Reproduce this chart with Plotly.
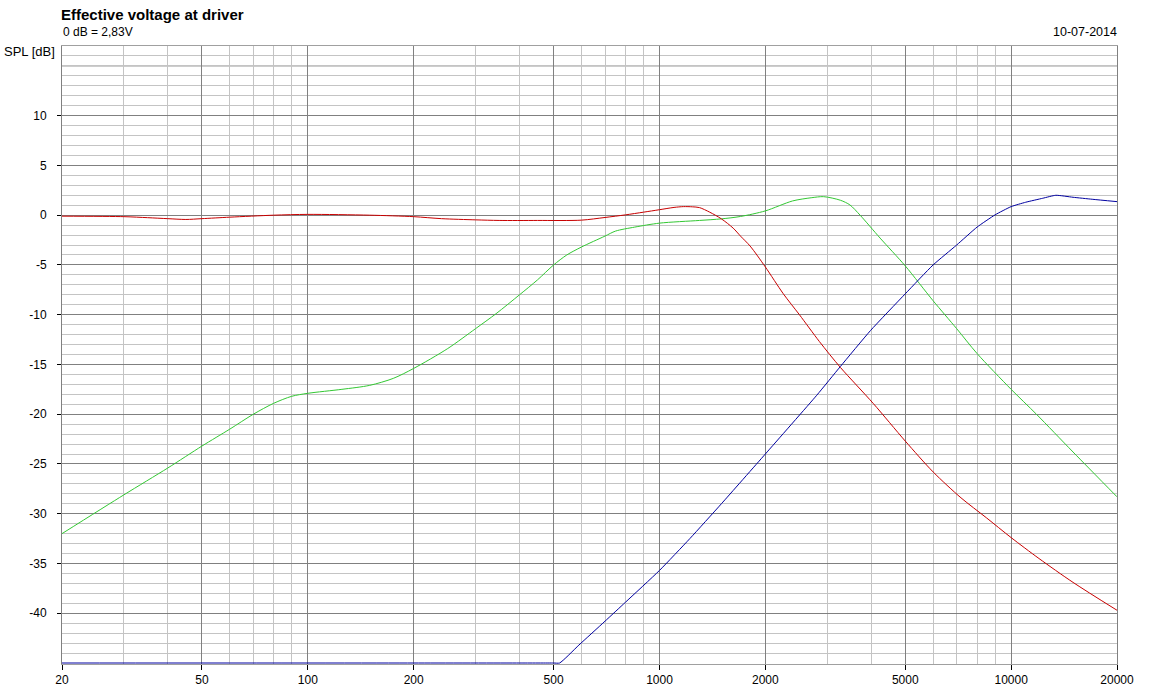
import plotly.graph_objects as go

# ---- data ----
red_freq = [20, 30, 35, 40, 45, 50, 60, 80, 100, 150, 200, 240, 300, 350, 450, 600, 700, 800, 900,
            1000, 1100, 1170, 1240, 1300, 1390, 1500, 1620, 1700, 1810, 2000, 2250, 2500, 2850,
            3270, 4050, 5000, 6000, 7200, 8500, 10000, 12000, 15000, 20000]
red_db = [-0.1, -0.15, -0.25, -0.35, -0.43, -0.35, -0.2, 0.0, 0.08, 0.0, -0.15, -0.35, -0.47, -0.53,
          -0.53, -0.5, -0.23, 0.03, 0.3, 0.55, 0.78, 0.86, 0.84, 0.76, 0.3, -0.37, -1.3, -2.1, -3.1,
          -5.2, -7.9, -10.0, -12.7, -15.3, -18.9, -22.7, -25.8, -28.4, -30.4, -32.4, -34.5, -36.9,
          -39.7]

green_freq = [20, 30, 40, 50, 60, 70, 80, 90, 100, 125, 150, 175, 200, 250, 300, 343, 400, 450, 500,
              545, 600, 700, 750, 850, 1000, 1300, 1500, 1700, 2000, 2390, 2700, 2930, 3270, 3480,
              3720, 4240, 5000, 6000, 7000, 8000, 10000, 11800, 15000, 20000]
green_db = [-32.0, -28.1, -25.4, -23.2, -21.5, -20.0, -18.9, -18.2, -17.9, -17.5, -17.1, -16.4, -15.4,
            -13.4, -11.4, -9.9, -8.0, -6.5, -5.0, -4.0, -3.2, -2.1, -1.6, -1.2, -0.8, -0.53, -0.37,
            -0.13, 0.43, 1.43, 1.75, 1.86, 1.5, 1.03, 0.0, -2.3, -5.1, -8.6, -11.4, -13.9, -17.5,
            -20.0, -23.8, -28.3]

blue_freq = [20, 200, 400, 500, 520, 590, 700, 800, 1000, 1220, 1500, 2000, 2800, 3270, 3980, 5000,
             6000, 7000, 8000, 9000, 10000, 11000, 12300, 13400, 15000, 17000, 20000]
blue_db = [-45, -45, -45, -45, -45, -43.2, -40.8, -38.9, -35.7, -32.5, -29.0, -24.0, -18.1, -15.2,
           -11.6, -7.9, -5.0, -3.0, -1.2, 0.03, 0.86, 1.3, 1.7, 2.0, 1.8, 1.6, 1.36]

x_ticks = [20, 50, 100, 200, 500, 1000, 2000, 5000, 10000, 20000]
x_tick_labels = ["20", "50", "100", "200", "500", "1000", "2000", "5000", "10000", "20000"]
x_minor = [30, 40, 60, 70, 80, 90, 300, 400, 600, 700, 800, 900, 3000, 4000, 6000, 7000, 8000, 9000]
y_ticks = [-40, -35, -30, -25, -20, -15, -10, -5, 0, 5, 10]
y_tick_labels = [str(v) for v in y_ticks]
y_extra_major = [15]

title_text = "Effective voltage at driver"
subtitle_text = "0 dB = 2,83V"
date_text = "10-07-2014"
y_title = "SPL [dB]"

# ---- figure ----
FONT = "Liberation Sans"
fig = go.Figure()
fig.add_trace(go.Scatter(x=green_freq, y=green_db, mode="lines", line_shape="spline",
                         line=dict(color="#33c833", width=1, smoothing=0.8), hoverinfo="skip"))
fig.add_trace(go.Scatter(x=red_freq, y=red_db, mode="lines", line_shape="spline",
                         line=dict(color="#c80000", width=1, smoothing=0.8), hoverinfo="skip"))
fig.add_trace(go.Scatter(x=blue_freq, y=blue_db, mode="lines", line_shape="spline",
                         line=dict(color="#0000a0", width=1, smoothing=0.5), hoverinfo="skip"))

MINOR_GRID = "#c4c4c4"
MAJOR_GRID = "#808080"

fig.update_layout(
    width=1175, height=699,
    margin=dict(l=62, r=58, t=46, b=29),
    paper_bgcolor="white", plot_bgcolor="white",
    showlegend=False,
    font=dict(family=FONT, size=12, color="black"),
    xaxis=dict(
        type="log", range=[1.30103, 4.30103],
        tickmode="array", tickvals=x_ticks, ticktext=x_tick_labels,
        ticks="outside", ticklen=5, tickcolor="black", tickwidth=1,
        showgrid=True, gridcolor=MAJOR_GRID, gridwidth=1,
        minor=dict(tickmode="array", tickvals=x_minor, showgrid=True,
                   gridcolor=MINOR_GRID, gridwidth=1, ticks=""),
        showline=True, linecolor="#a0a0a0", linewidth=1, mirror=True,
        zeroline=False, tickfont=dict(family=FONT, size=12, color="black"),
        fixedrange=True,
    ),
    yaxis=dict(
        range=[-45.1, 17], tickmode="array", tickvals=y_ticks, ticktext=y_tick_labels,
        ticks="outside", ticklen=4, tickcolor="black", tickwidth=1,
        ticklabelstandoff=8,
        showgrid=True, gridcolor=MAJOR_GRID, gridwidth=1,
        minor=dict(dtick=1, tick0=0, showgrid=True, gridcolor=MINOR_GRID, gridwidth=1, ticks=""),
        showline=True, linecolor=MAJOR_GRID, linewidth=1, mirror=True,
        zeroline=False, tickfont=dict(family=FONT, size=12, color="black"),
        fixedrange=True,
    ),
)

for yv in y_extra_major:
    fig.add_shape(type="line", xref="paper", x0=0, x1=1, yref="y", y0=yv, y1=yv,
                  line=dict(color=MAJOR_GRID, width=1), layer="below")

fig.add_annotation(text="<b>" + title_text + "</b>", xref="paper", yref="paper",
                   x=-0.003, y=1.0509, xanchor="left", yanchor="middle", showarrow=False,
                   font=dict(family=FONT, size=15, color="black"))
fig.add_annotation(text=subtitle_text, xref="paper", yref="paper",
                   x=-0.001, y=1.022, xanchor="left", yanchor="middle", showarrow=False,
                   font=dict(family=FONT, size=12, color="black"))
fig.add_annotation(text=date_text, xref="paper", yref="paper",
                   x=1.002, y=1.022, xanchor="right", yanchor="middle", showarrow=False,
                   font=dict(family=FONT, size=12.5, color="black"))
fig.add_annotation(text=y_title, xref="paper", yref="paper",
                   x=-0.057, y=0.9912, xanchor="left", yanchor="middle", showarrow=False,
                   font=dict(family=FONT, size=13, color="black"))

fig.write_html("out.html", config={"displayModeBar": False},
               post_script="document.body.style.margin='0';")
